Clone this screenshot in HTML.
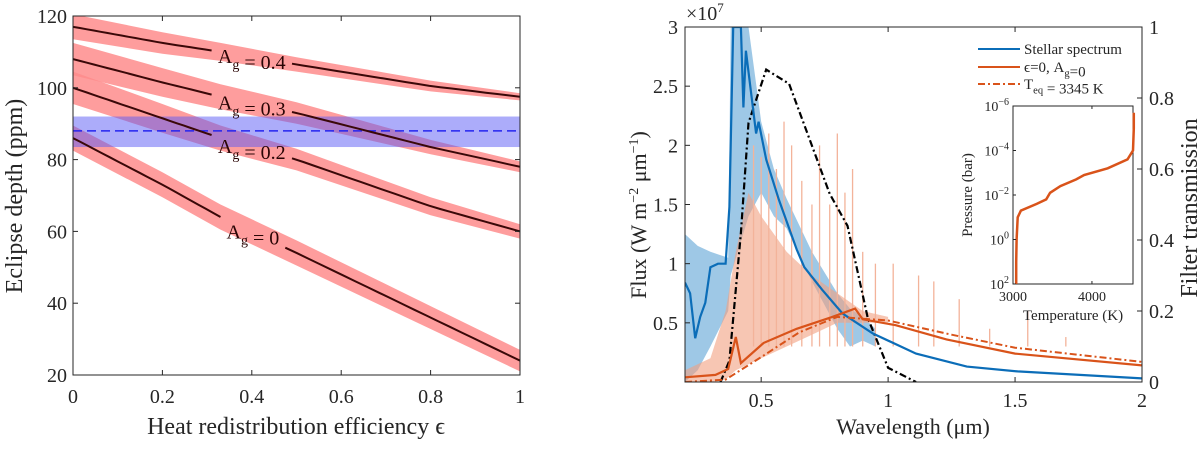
<!DOCTYPE html>
<html><head><meta charset="utf-8"><style>
body{margin:0;background:#fff;}
svg, svg text{font-family:"Liberation Serif","DejaVu Serif",serif;}
</style></head><body>
<svg id="fig" width="1200" height="444" viewBox="0 0 1200 444" xmlns="http://www.w3.org/2000/svg" font-family="Liberation Serif, DejaVu Serif, serif">
<g id="L"></g>
<g id="R"></g>
</svg>
<script>
// ---------- LEFT PANEL DATA ----------
const epsX = [0, 0.2, 0.33, 0.5, 0.8, 1];
const depthA0  = [86, 73, 64, 54, 36, 24];
const depthA02 = [100, 91.5, 86, 80, 67, 60];
const depthA03 = [108, 101.5, 97.5, 93, 83.5, 78];
const depthA04 = [117, 112.5, 110, 106.5, 100.5, 97.5];
const bandHalfA0  = [3.5, 3.5, 3.5, 3.5, 3.2, 3];
const bandHalfA02 = [4.5, 4, 3.5, 3, 2.5, 2];
const bandHalfA03 = [4.5, 4, 3.5, 3, 2, 1.5];
const bandHalfA04 = [3.5, 3, 2.5, 2, 1.5, 1];
const albedoLabels = ["A_g = 0", "A_g = 0.2", "A_g = 0.3", "A_g = 0.4"];
const observedDepth = [88];
const observedBand = [83.5, 92];
const leftXTicks = [0, 0.2, 0.4, 0.6, 0.8, 1];
const leftYTicks = [20, 40, 60, 80, 100, 120];

// ---------- RIGHT PANEL DATA ----------
const starLam  = [0.2,0.22,0.24,0.26,0.28,0.30,0.33,0.36,0.375,0.39,0.42,0.43,0.44,0.48,0.49,0.52,0.57,0.64,0.67,0.74,0.82,0.94,1.11,1.31,1.51,2.0];
const starFlux = [0.84,0.75,0.37,0.55,0.67,0.97,1.0,1.0,1.48,3.0,3.0,2.32,2.8,2.1,2.2,1.88,1.54,1.12,0.97,0.78,0.58,0.41,0.24,0.13,0.09,0.03];
const planLam  = [0.2,0.32,0.37,0.4,0.42,0.51,0.64,0.78,0.87,0.9,1.03,1.23,1.5,2.0];
const planFlux = [0.04,0.06,0.11,0.38,0.16,0.33,0.45,0.55,0.62,0.53,0.48,0.36,0.24,0.14];
const bbLam  = [0.2,0.36,0.5,0.65,0.8,1.0,1.25,1.5,2.0];
const bbFlux = [0.0,0.02,0.21,0.42,0.55,0.52,0.40,0.29,0.17];
const filtLam = [0.34,0.375,0.42,0.45,0.52,0.61,0.77,0.84,0.92,1.0,1.11];
const filtT   = [0,0.06,0.42,0.73,0.88,0.84,0.53,0.44,0.18,0.04,0];
const starBandLam = [0.2,0.25,0.3,0.37,0.38,0.45,0.5,0.55,0.6,0.7,0.8,0.85,0.9,0.95];
const starBandHi  = [1.25,1.15,1.1,1.05,3.0,3.0,2.2,1.8,1.55,1.1,0.75,0.62,0.55,0.45];
const starBandLo  = [0.0,0.1,0.3,0.6,0.9,1.4,1.6,1.4,1.3,0.85,0.45,0.3,0.35,0.3];
const orBandLam = [0.2,0.3,0.36,0.4,0.45,0.5,0.6,0.7,0.8,0.9,1.0];
const orBandHi  = [0.1,0.2,0.6,1.1,1.6,1.4,1.1,0.9,0.75,0.6,0.55];
const orBandLo  = [0.0,0.0,0.02,0.1,0.15,0.2,0.3,0.4,0.5,0.5,0.5];
const spikeLam = [0.47,0.5,0.53,0.56,0.59,0.62,0.66,0.7,0.73,0.77,0.8,0.83,0.86,0.9,0.95,1.02,1.12,1.18,1.28,1.4,1.55,1.7];
const spikeTop = [2.0,1.9,2.1,1.8,2.2,2.0,1.7,1.5,2.0,1.5,2.1,1.6,1.8,1.1,1.0,1.0,0.9,0.85,0.7,0.45,0.6,0.38];
const rightXTicks = [0.5, 1, 1.5, 2];
const rightYTicks = [0.5, 1, 1.5, 2, 2.5, 3];
const rightY2Ticks = [0, 0.2, 0.4, 0.6, 0.8, 1];
const legendLabels = ["Stellar spectrum", "ϵ=0, A_g=0", "T_eq = 3345 K"];
// inset
const tpT = [3040,3040,3045,3060,3100,3300,3420,3470,3600,3800,3900,4200,4450,4520,4530,4530];
const tpLogP = [2,1,0,-1,-1.3,-1.6,-1.8,-2.1,-2.4,-2.7,-2.9,-3.2,-3.6,-4.0,-5.0,-5.7];
const insetXTicks = [3000, 4000];
const insetYTicks = [2, 0, -2, -4, -6];

const NS="http://www.w3.org/2000/svg";
const FF='"Liberation Serif","DejaVu Serif",serif';
function mk(parent, tag, attrs, text){
  const e=document.createElementNS(NS,tag);
  for(const k in attrs) e.setAttribute(k, attrs[k]);
  if(tag==='text') e.style.fontFamily=FF;
  if(text!==undefined) e.textContent=text;
  parent.appendChild(e); return e;
}
function pathD(xs, ys, fx, fy){ return xs.map((x,i)=>(i?'L':'M')+fx(x).toFixed(1)+','+fy(ys[i]).toFixed(1)).join(''); }
function interp(xs, ys, x){ for(let i=0;i<xs.length-1;i++){ if(x<=xs[i+1]){const t=(x-xs[i])/(xs[i+1]-xs[i]);return ys[i]+t*(ys[i+1]-ys[i]);}} return ys[ys.length-1]; }
function subText(parent, x, y, str, size, anchor, fill){
  const t=mk(parent,'text',{x:x,y:y,'font-size':size,'text-anchor':anchor||'start',fill:fill||'#222'});
  const parts=str.split(/(_[a-z]+)/);
  parts.forEach(p=>{ if(p.startsWith('_')){ mk(t,'tspan',{dy:size*0.3,'font-size':size*0.7},p.slice(1)); mk(t,'tspan',{dy:-size*0.3},''); } else if(p) mk(t,'tspan',{},p); });
  return t;
}

// ---------- LEFT ----------
(function(){
  const g=document.getElementById('L');
  const x0=73,x1=520,yT=16,yB=375;
  const fx=v=>x0+(x1-x0)*v, fy=v=>yB-(yB-yT)*(v-20)/100;
  const clip=mk(g,'clipPath',{id:'lc'}); mk(clip,'rect',{x:x0,y:yT,width:x1-x0,height:yB-yT});
  const pg=mk(g,'g',{'clip-path':'url(#lc)'});
  const series=[[depthA0,bandHalfA0,0.33,0.475],[depthA02,bandHalfA02,0.31,0.49],[depthA03,bandHalfA03,0.31,0.49],[depthA04,bandHalfA04,0.31,0.49]];
  const names=['a0','a02','a03','a04'];
  series.forEach((s,k)=>{
    const up=s[0].map((v,i)=>v+s[1][i]), lo=s[0].map((v,i)=>v-s[1][i]);
    const d=pathD(epsX,up,fx,fy)+pathD(epsX.slice().reverse(),lo.slice().reverse(),fx,fy).replace('M','L')+'Z';
    const b=mk(pg,'path',{d:d,fill:'#fe8c8c','fill-opacity':0.85});
    
    
  });
  const ob=mk(pg,'rect',{x:x0,y:fy(observedBand[1]),width:x1-x0,height:fy(observedBand[0])-fy(observedBand[1]),fill:'#5a5af5','fill-opacity':0.5});
  
  
  const ol=mk(pg,'line',{x1:x0,x2:x1,y1:fy(observedDepth[0]),y2:fy(observedDepth[0]),stroke:'#2424f0','stroke-width':1.5,'stroke-dasharray':'9,5'});
  
  
  series.forEach((s,k)=>{
    const segs=[[0,s[2]],[s[3],1]];
    segs.forEach(([a,b2])=>{
      const xs=[];for(let i=0;i<=20;i++)xs.push(a+(b2-a)*i/20);
      const ys=xs.map(x=>interp(epsX,s[0],x));
      const l=mk(pg,'path',{d:pathD(xs,ys,fx,fy),fill:'none',stroke:'#3a0808','stroke-width':2});
      
      
    });
    const lx=(s[2]+s[3])/2, ly=interp(epsX,s[0],lx);
    const t=subText(g,fx(lx),fy(ly)+6,albedoLabels[k],20,'middle','#2a0505');
    
    
  });
  const ax=mk(g,'rect',{x:x0,y:yT,width:x1-x0,height:yB-yT,fill:'none',stroke:'#262626','stroke-width':1});
  
  
  leftXTicks.forEach(v=>{
    mk(g,'line',{x1:fx(v),x2:fx(v),y1:yB,y2:yB-5,stroke:'#262626'});
    mk(g,'line',{x1:fx(v),x2:fx(v),y1:yT,y2:yT+5,stroke:'#262626'});
    const t=mk(g,'text',{x:fx(v),y:yB+28,'font-size':20,'text-anchor':'middle',fill:'#262626'},String(v));
    
    
  });
  leftYTicks.forEach(v=>{
    mk(g,'line',{x1:x0,x2:x0+5,y1:fy(v),y2:fy(v),stroke:'#262626'});
    mk(g,'line',{x1:x1,x2:x1-5,y1:fy(v),y2:fy(v),stroke:'#262626'});
    const t=mk(g,'text',{x:x0-6,y:fy(v)+7,'font-size':20,'text-anchor':'end',fill:'#262626'},String(v));
    
    
  });
  const xl=mk(g,'text',{x:296,y:434,'font-size':24,'text-anchor':'middle',fill:'#262626'},'Heat redistribution efficiency ϵ');
  
  
  const yl=mk(g,'text',{x:0,y:0,'font-size':24,'text-anchor':'middle',fill:'#262626',transform:'translate(22,196) rotate(-90)'},'Eclipse depth (ppm)');
  
  
})();

// ---------- RIGHT ----------
(function(){
  const g=document.getElementById('R');
  const x0=685,x1=1142,yT=27,yB=382;
  const fx=v=>x0+(x1-x0)*(v-0.2)/1.8, fy=v=>yB-(yB-yT)*v/3, fy2=v=>yB-(yB-yT)*v;
  const clip=mk(g,'clipPath',{id:'rc'}); mk(clip,'rect',{x:x0,y:yT,width:x1-x0,height:yB-yT});
  const pg=mk(g,'g',{'clip-path':'url(#rc)'});
  function band(xs,hi,lo,fill,op,name){
    const d=pathD(xs,hi,fx,fy)+pathD(xs.slice().reverse(),lo.slice().reverse(),fx,fy).replace('M','L')+'Z';
    const p=mk(pg,'path',{d:d,fill:fill,'fill-opacity':op});
    
    
  }
  band(starBandLam,starBandHi,starBandLo,'#7db5de',0.75,'stellar-spectrum-hires');
  band(orBandLam,orBandHi,orBandLo,'#f2a080',0.6,'planet-spectrum-hires');
  spikeLam.forEach((l,i)=>{
    const s=mk(pg,'line',{x1:fx(l),x2:fx(l),y1:fy(0.3),y2:fy(spikeTop[i]),stroke:'#f3b39a','stroke-width':1.3});
    
    
  });
  const f=mk(pg,'path',{d:pathD(filtLam,filtT,fx,fy2),fill:'none',stroke:'#000','stroke-width':2.2,'stroke-dasharray':'7,3,2,3'});
  
  
  const s=mk(pg,'path',{d:pathD(starLam,starFlux,fx,fy),fill:'none',stroke:'#0b6db8','stroke-width':2.2});
  
  
  const bb=mk(pg,'path',{d:pathD(bbLam,bbFlux,fx,fy),fill:'none',stroke:'#d9531a','stroke-width':2,'stroke-dasharray':'7,3,2,3'});
  
  
  const p=mk(pg,'path',{d:pathD(planLam,planFlux,fx,fy),fill:'none',stroke:'#d9531a','stroke-width':2.2});
  
  
  const ax=mk(g,'rect',{x:x0,y:yT,width:x1-x0,height:yB-yT,fill:'none',stroke:'#262626','stroke-width':1});
  
  
  rightXTicks.forEach(v=>{
    mk(g,'line',{x1:fx(v),x2:fx(v),y1:yB,y2:yB-5,stroke:'#262626'});
    mk(g,'line',{x1:fx(v),x2:fx(v),y1:yT,y2:yT+5,stroke:'#262626'});
    const t=mk(g,'text',{x:fx(v),y:yB+25,'font-size':20,'text-anchor':'middle',fill:'#262626'},String(v));
    
    
  });
  rightYTicks.forEach(v=>{
    mk(g,'line',{x1:x0,x2:x0+5,y1:fy(v),y2:fy(v),stroke:'#262626'});
    const t=mk(g,'text',{x:x0-7,y:fy(v)+7,'font-size':20,'text-anchor':'end',fill:'#262626'},String(v));
    
    
  });
  rightY2Ticks.forEach(v=>{
    mk(g,'line',{x1:x1,x2:x1-5,y1:fy2(v),y2:fy2(v),stroke:'#262626'});
    const t=mk(g,'text',{x:x1+7,y:fy2(v)+7,'font-size':20,'text-anchor':'start',fill:'#262626'},String(v));
    
    
  });
  const ex=mk(g,'text',{x:686,y:20,'font-size':20,fill:'#262626'});
  mk(ex,'tspan',{},'×10');mk(ex,'tspan',{'font-size':13,dy:-8},'7');
  
  
  const xl=mk(g,'text',{x:913,y:434,'font-size':22,'text-anchor':'middle',fill:'#262626'},'Wavelength (μm)');
  
  
  const yl=mk(g,'text',{x:0,y:0,'font-size':22,'text-anchor':'middle',fill:'#262626',transform:'translate(646,215) rotate(-90)'});
  mk(yl,'tspan',{},'Flux (W m');mk(yl,'tspan',{'font-size':14,dy:-8},'−2');mk(yl,'tspan',{dy:8},' μm');mk(yl,'tspan',{'font-size':14,dy:-8},'−1');mk(yl,'tspan',{dy:8},')');
  
  
  const yl2=mk(g,'text',{x:0,y:0,'font-size':24,'text-anchor':'middle',fill:'#262626',transform:'translate(1197,208) rotate(-90)'},'Filter transmission');
  
  
  const lg=mk(g,'g',{});
  
  
  const lstyles=[['#0b6db8',''],['#d9531a',''],['#d9531a','7,3,2,3']];
  [49,67,84].forEach((y,i)=>{
    const e=mk(lg,'g',{});
    
    
    const a={x1:978,x2:1020,y1:y,y2:y,stroke:lstyles[i][0],'stroke-width':2};
    if(lstyles[i][1])a['stroke-dasharray']=lstyles[i][1];
    mk(e,'line',a);
    subText(e,1024,y+5,legendLabels[i],15,'start','#262626');
  });
  const ig=mk(g,'g',{});
  
  
  const ix0=1013,ix1=1133,iyT=106,iyB=284;
  const ifx=v=>ix0+(ix1-ix0)*(v-3000)/1520, ify=v=>iyT+(iyB-iyT)*(v+6)/8;
  mk(ig,'rect',{x:ix0,y:iyT,width:ix1-ix0,height:iyB-iyT,fill:'#fff',stroke:'#262626'});
  const tp=mk(ig,'path',{d:pathD(tpT,tpLogP,ifx,ify),fill:'none',stroke:'#d9531a','stroke-width':2.5});
  
  
  insetXTicks.forEach(v=>{
    mk(ig,'line',{x1:ifx(v),x2:ifx(v),y1:iyB,y2:iyB-3,stroke:'#262626'});
    mk(ig,'line',{x1:ifx(v),x2:ifx(v),y1:iyT,y2:iyT+3,stroke:'#262626'});
    mk(ig,'text',{x:ifx(v),y:iyB+17,'font-size':14,'text-anchor':'middle',fill:'#262626'},String(v));
  });
  insetYTicks.forEach(v=>{
    mk(ig,'line',{x1:ix0,x2:ix0+3,y1:ify(v),y2:ify(v),stroke:'#262626'});
    const t=mk(ig,'text',{x:ix0-4,y:ify(v)+5,'font-size':14,'text-anchor':'end',fill:'#262626'});
    mk(t,'tspan',{},'10');mk(t,'tspan',{'font-size':10,dy:-6},v===0?'0':(v>0?String(v):'−'+(-v)));
  });
  mk(ig,'text',{x:1073,y:320,'font-size':15,'text-anchor':'middle',fill:'#262626'},'Temperature (K)');
  mk(ig,'text',{x:0,y:0,'font-size':15,'text-anchor':'middle',fill:'#262626',transform:'translate(972,195) rotate(-90)'},'Pressure (bar)');
})();
</script>
</body></html>
